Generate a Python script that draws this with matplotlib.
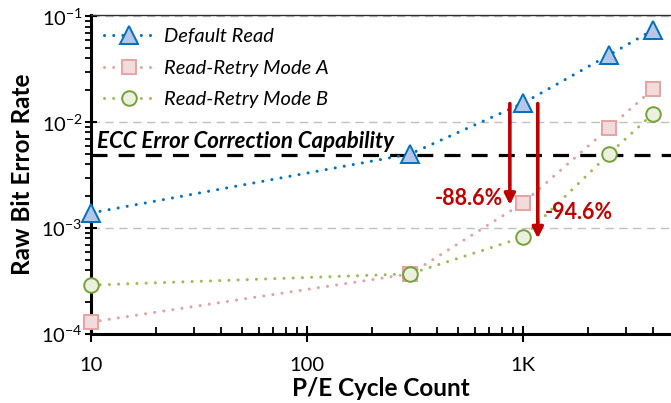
import matplotlib
matplotlib.use('Agg')
import matplotlib.pyplot as plt
from matplotlib.ticker import FixedLocator, FixedFormatter, LogLocator, NullFormatter

plt.rcParams['font.family'] = ['Lato', 'DejaVu Sans']
plt.rcParams['mathtext.default'] = 'regular'

pe_cycles = [10, 300, 1000, 2500, 4000]
default_read = [1.39e-3, 5.0e-3, 1.51e-2, 4.3e-2, 7.4e-2]
mode_a = [1.3e-4, 3.7e-4, 1.72e-3, 8.8e-3, 2.05e-2]
mode_b = [2.9e-4, 3.7e-4, 8.2e-4, 5.0e-3, 1.2e-2]
ecc_limit = 4.9e-3

xticks = [10, 100, 1000]
xtick_labels = ['10', '100', '1K']

fig = plt.figure(figsize=(6.71, 4.03), dpi=100)
ax = fig.add_axes([0.1356, 0.171, 0.8644, 0.792])

dot = (0, (0.01, 3.0))
series = [
    (default_read, 'Default Read', '^', '#0070C0', '#B4C7E7', '#0070C0', 12.5),
    (mode_a, 'Read-Retry Mode A', 's', '#E0A2A2', '#F2DCDB', '#E6A3A3', 10),
    (mode_b, 'Read-Retry Mode B', 'o', '#9BBB59', '#EBF1DE', '#77A03C', 10.5),
]
for ys, label, mk, lc, fc, ec, ms in series:
    ax.plot(pe_cycles, ys, linestyle=dot, dash_capstyle='round', lw=2.2, color=lc,
            marker=mk, markersize=ms, markerfacecolor=fc, markeredgecolor=ec,
            markeredgewidth=1.4, label=label, clip_on=False, zorder=3)

ax.axhline(ecc_limit, color='black', lw=2.3, linestyle=(0, (5, 3.5)), zorder=1)
ax.text(10.7, 6.6e-3, 'ECC Error Correction Capability', fontsize=16,
        fontweight='bold', fontstyle='italic', va='center', ha='left')

red = '#C00000'
ax.annotate('', xy=(870, 1.66e-3), xytext=(870, 1.5e-2),
            arrowprops=dict(arrowstyle='-|>', color=red, lw=2.6, mutation_scale=16,
                            shrinkA=0, shrinkB=0))
ax.annotate('', xy=(1172, 8.0e-4), xytext=(1172, 1.5e-2),
            arrowprops=dict(arrowstyle='-|>', color=red, lw=2.6, mutation_scale=16,
                            shrinkA=0, shrinkB=0))
ax.text(808, 1.92e-3, '-88.6%', color=red, fontsize=15.5, fontweight='bold',
        ha='right', va='center')
ax.text(1265, 1.39e-3, '-94.6%', color=red, fontsize=15.5, fontweight='bold',
        ha='left', va='center')

ax.set_xscale('log')
ax.set_yscale('log')
ax.set_xlim(10, 4850)
ax.set_ylim(1e-4, 1.03e-1)

ax.xaxis.set_major_locator(FixedLocator(xticks))
ax.xaxis.set_major_formatter(FixedFormatter(xtick_labels))
ax.xaxis.set_minor_locator(LogLocator(base=10, subs=range(2, 10)))
ax.xaxis.set_minor_formatter(NullFormatter())
ax.yaxis.set_major_locator(LogLocator(base=10, numticks=10))
ax.yaxis.set_minor_locator(LogLocator(base=10, subs=range(2, 10), numticks=10))
ax.yaxis.set_minor_formatter(NullFormatter())

ax.tick_params(axis='x', which='major', direction='inout', length=11, width=1.5,
               labelsize=14.5, pad=11)
ax.tick_params(axis='x', which='minor', direction='in', length=5, width=1.3)
ax.tick_params(axis='y', which='major', direction='inout', length=8, width=1.5,
               labelsize=14.5, pad=2)
ax.tick_params(axis='y', which='minor', direction='out', length=4, width=1.3)

ax.grid(axis='y', which='major', color='#C0C0C0', linestyle=(0, (6, 4)), lw=1)
ax.set_axisbelow(True)

for s in ['left', 'bottom']:
    ax.spines[s].set_linewidth(2.2)
ax.spines['top'].set_linewidth(1.0)
ax.spines['top'].set_color('#303030')
ax.spines['right'].set_visible(False)

ax.set_xlabel('P/E Cycle Count', fontsize=17.5, fontweight='bold', labelpad=2)
ax.set_ylabel('Raw Bit Error Rate', fontsize=17.5, fontweight='bold', labelpad=5)

leg = ax.legend(loc='upper left', frameon=False, fontsize=14.5, numpoints=1,
                handlelength=2.5, labelspacing=0.72, handletextpad=0.5,
                borderaxespad=0.25, bbox_to_anchor=(0.0, 1.0))
for t in leg.get_texts():
    t.set_fontstyle('italic')

fig.savefig('out.png', dpi=100)
